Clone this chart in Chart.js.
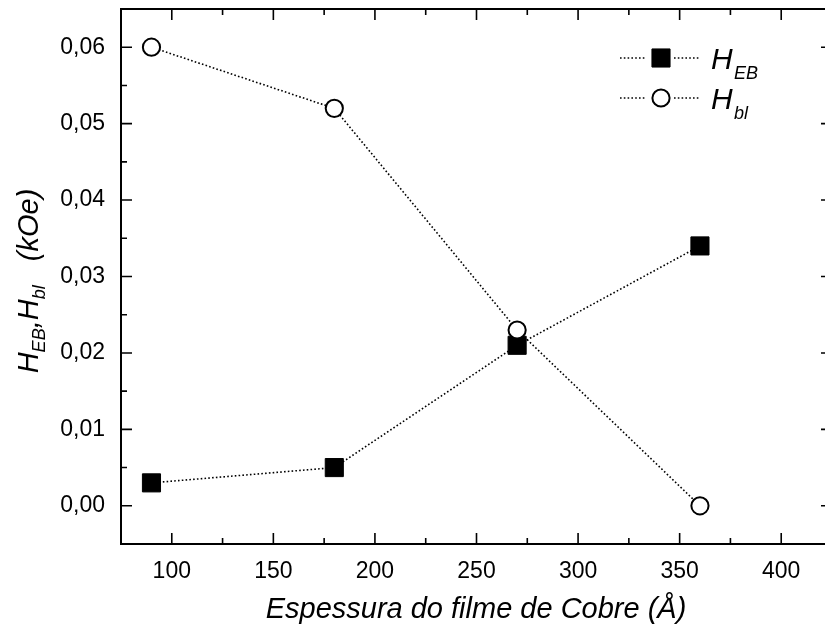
<!DOCTYPE html>
<html>
<head>
<meta charset="utf-8">
<script src="https://cdn.jsdelivr.net/npm/chart.js@4"></script>
<style>
html, body { margin: 0; padding: 0; background: #fff; overflow: hidden; }
canvas { display: block; }
</style>
</head>
<body>
<canvas id="myChart" width="840" height="633"></canvas>
<script>
// copper film thickness (Å) and the two fields (kOe)
const thickness = [90, 180, 270, 360];
const hEB = [0.003, 0.005, 0.021, 0.034];
const hBl = [0.060, 0.052, 0.023, 0.000];

const xTicks = [100, 150, 200, 250, 300, 350, 400];
const xMinorTicks = [125, 175, 225, 275, 325, 375];
const yTicks = [0, 0.01, 0.02, 0.03, 0.04, 0.05, 0.06];
const yMinorTicks = [0.005, 0.015, 0.025, 0.035, 0.045, 0.055];

const FONT = "'Liberation Sans', Arial, sans-serif";

// draws text pieces one after another, subscripts shifted down
function richText(ctx, parts, x, y) {
	let total = 0;
	parts.forEach(p => {
		ctx.font = "italic " + p.size + "px " + FONT;
		p.w = ctx.measureText(p.t).width;
		total += p.w;
	});
	let cx = x - total / 2;
	parts.forEach(p => {
		ctx.font = "italic " + p.size + "px " + FONT;
		ctx.fillText(p.t, cx, y + (p.dy || 0));
		cx += p.w;
	});
}

const framePlugin = {
	id: "frame",
	afterDraw(chart) {
		const { ctx, chartArea: a, scales } = chart;
		const x = scales.x, y = scales.y;
		ctx.save();
		ctx.strokeStyle = "#000";
		ctx.lineWidth = 2;
		ctx.strokeRect(a.left, a.top, a.right - a.left, a.bottom - a.top);

		// inward ticks on all four sides
		ctx.lineWidth = 1.6;
		ctx.beginPath();
		const xt = (vals, len) => vals.forEach(v => {
			const px = x.getPixelForValue(v);
			ctx.moveTo(px, a.bottom); ctx.lineTo(px, a.bottom - len);
			ctx.moveTo(px, a.top); ctx.lineTo(px, a.top + len);
		});
		const yt = (vals, len) => vals.forEach(v => {
			const py = y.getPixelForValue(v);
			ctx.moveTo(a.left, py); ctx.lineTo(a.left + len, py);
			ctx.moveTo(a.right, py); ctx.lineTo(a.right - len, py);
		});
		xt(xTicks, 11); xt(xMinorTicks, 6);
		yt(yTicks, 11); yt(yMinorTicks, 6);
		ctx.stroke();

		// axis titles
		ctx.fillStyle = "#000";
		ctx.textBaseline = "alphabetic";
		ctx.textAlign = "left";
		richText(ctx, [{ t: "Espessura do filme de Cobre (Å)", size: 29 }], 476, 618);

		ctx.save();
		ctx.translate(38, 281);
		ctx.rotate(-Math.PI / 2);
		richText(ctx, [
			{ t: "H", size: 29 },
			{ t: "EB", size: 18, dy: 7 },
			{ t: ",", size: 29 },
			{ t: "H", size: 29 },
			{ t: "bl", size: 18, dy: 7 },
			{ t: "   (kOe)", size: 29 },
		], 0, 0);
		ctx.restore();

		// legend
		const rows = [
			{ ds: chart.data.datasets[0], y: 58, sub: "EB" },
			{ ds: chart.data.datasets[1], y: 98, sub: "bl" },
		];
		rows.forEach(r => {
			ctx.save();
			ctx.strokeStyle = r.ds.borderColor;
			ctx.lineWidth = r.ds.borderWidth;
			ctx.setLineDash(r.ds.borderDash);
			ctx.beginPath();
			ctx.moveTo(620, r.y); ctx.lineTo(646, r.y);
			ctx.moveTo(674, r.y); ctx.lineTo(700, r.y);
			ctx.stroke();
			ctx.restore();
			ctx.fillStyle = r.ds.pointBackgroundColor;
			ctx.strokeStyle = r.ds.pointBorderColor;
			ctx.lineWidth = r.ds.pointBorderWidth;
			ctx.beginPath();
			if (r.ds.pointStyle === "rect") {
				const s = r.ds.pointRadius * Math.SQRT1_2;
				ctx.rect(661 - s, r.y - s, 2 * s, 2 * s);
			} else {
				ctx.arc(661, r.y, r.ds.pointRadius, 0, Math.PI * 2);
			}
			ctx.fill();
			ctx.stroke();
			ctx.fillStyle = "#000";
			ctx.font = "italic 30px " + FONT;
			ctx.fillText("H", 711, r.y + 11);
			ctx.font = "italic 18px " + FONT;
			ctx.fillText(r.sub, 734, r.y + 21);
		});
		ctx.restore();
	},
};

const config = {
	type: "scatter",
	data: {
		datasets: [
			{
				label: "HEB",
				data: thickness.map((t, i) => ({ x: t, y: hEB[i] })),
				showLine: true,
				borderColor: "#000",
				borderWidth: 1.6,
				borderDash: [1.6, 2.2],
				pointStyle: "rect",
				pointRadius: 12.8,
				pointBackgroundColor: "#000",
				pointBorderColor: "#000",
				pointBorderWidth: 1,
				order: 2,
			},
			{
				label: "Hbl",
				data: thickness.map((t, i) => ({ x: t, y: hBl[i] })),
				showLine: true,
				borderColor: "#000",
				borderWidth: 1.6,
				borderDash: [1.6, 2.2],
				pointStyle: "circle",
				pointRadius: 8.6,
				pointBackgroundColor: "#fff",
				pointBorderColor: "#000",
				pointBorderWidth: 2,
				order: 1,
			},
		],
	},
	options: {
		responsive: false,
		animation: false,
		events: [],
		layout: { autoPadding: false, padding: { top: 9, right: 8, left: 0, bottom: 0 } },
		plugins: {
			legend: { display: false },
			tooltip: { enabled: false },
		},
		scales: {
			x: {
				type: "linear",
				min: 75,
				max: 425,
				border: { display: false },
				grid: { display: false, drawTicks: false },
				afterBuildTicks: s => { s.ticks = xTicks.map(v => ({ value: v })); },
				afterFit: s => { s.height = 89; s.paddingLeft = 0; s.paddingRight = 0; },
				ticks: {
					color: "#000",
					padding: 14,
					maxRotation: 0,
					font: { family: FONT, size: 23 },
					callback: v => String(v),
				},
			},
			y: {
				type: "linear",
				min: -0.005,
				max: 0.065,
				border: { display: false },
				grid: { display: false, drawTicks: false },
				afterBuildTicks: s => { s.ticks = yTicks.map(v => ({ value: v })); },
				afterFit: s => { s.width = 121; s.paddingTop = 0; s.paddingBottom = 0; },
				ticks: {
					color: "#000",
					padding: 16,
					font: { family: FONT, size: 23 },
					callback: v => v.toFixed(2).replace(".", ","),
				},
			},
		},
	},
	plugins: [framePlugin],
};

new Chart(document.getElementById("myChart"), config);
</script>
</body>
</html>
